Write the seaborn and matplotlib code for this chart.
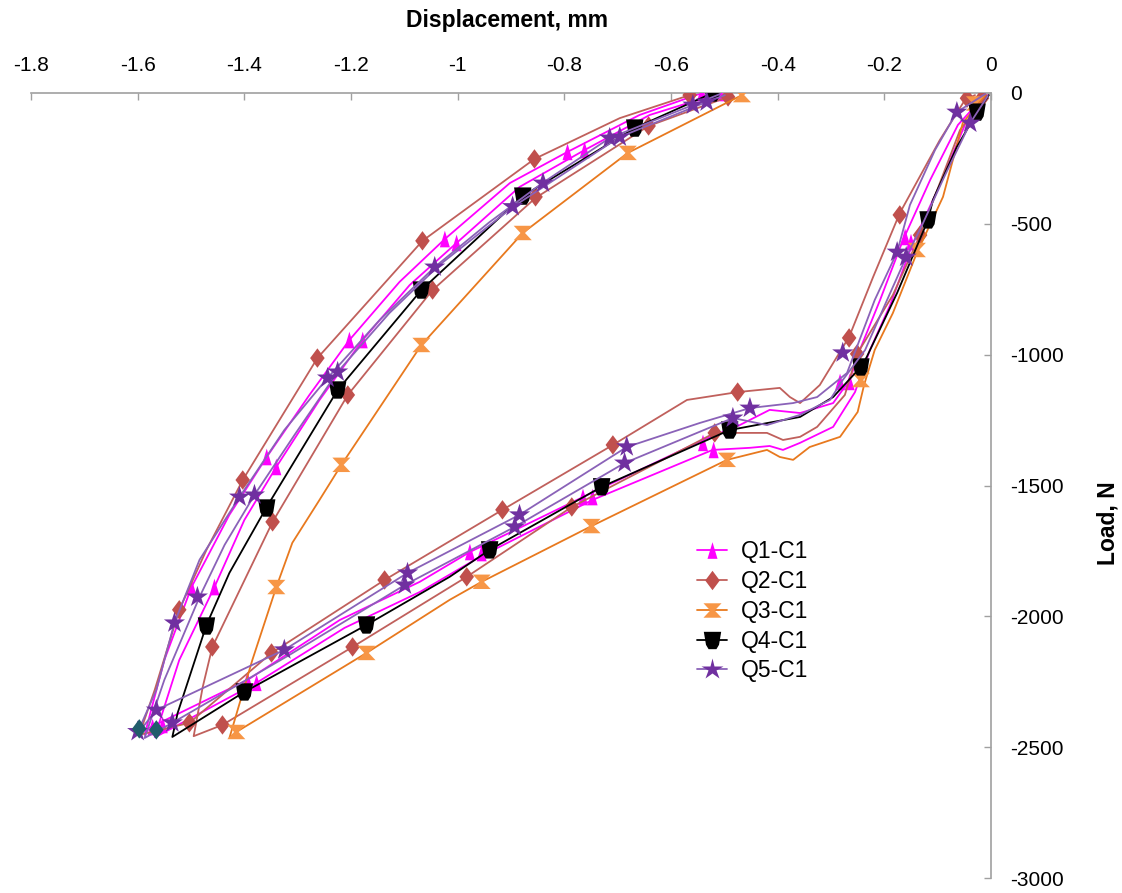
import pandas as pd
import matplotlib.pyplot as plt
import seaborn as sns
from matplotlib.lines import Line2D

# traced loops: displacement (mm) and load (N)
q1a_x = [-0.011, -0.062, -0.114, -0.165, -0.208, -0.246, -0.265, -0.296, -0.358, -0.415, -0.471, -0.540,
         -0.765, -0.977, -1.071, -1.221, -1.394, -1.578, -1.587, -1.550, -1.499, -1.428, -1.358, -1.278,
         -1.203, -1.109, -1.024, -0.902, -0.794, -0.659, -0.542]
q1a_y = [-8, -122, -332, -562, -791, -982, -1097, -1185, -1223, -1211, -1269, -1326,
         -1544, -1754, -1868, -2014, -2243, -2426, -2453, -2167, -1888, -1612, -1391, -1154,
         -944, -722, -558, -344, -225, -84, 0]
q1b_x = [-0.006, -0.049, -0.096, -0.148, -0.189, -0.227, -0.255, -0.296, -0.358, -0.390, -0.415, -0.452,
         -0.522, -0.747, -0.955, -1.071, -1.212, -1.377, -1.559, -1.568, -1.522, -1.456, -1.400, -1.340,
         -1.259, -1.178, -1.090, -1.002, -0.884, -0.762, -0.640, -0.508]
q1b_y = [-8, -122, -352, -581, -810, -982, -1143, -1276, -1337, -1364, -1349, -1356,
         -1364, -1555, -1769, -1907, -2044, -2254, -2453, -2461, -2167, -1888, -1632, -1429,
         -1173, -944, -734, -573, -359, -218, -84, 0]

q2a_x = [-0.030, -0.049, -0.096, -0.171, -0.221, -0.266, -0.321, -0.358, -0.377, -0.396, -0.475, -0.570,
         -0.709, -0.916, -1.137, -1.349, -1.503, -1.597, -1.568, -1.522, -1.471, -1.403, -1.263, -1.066,
         -0.856, -0.696, -0.565]
q2a_y = [-8, -27, -180, -459, -703, -932, -1116, -1185, -1162, -1127, -1143, -1173,
         -1345, -1593, -1861, -2140, -2407, -2453, -2281, -1975, -1746, -1479, -1013, -565,
         -252, -96, -8]
q2b_x = [-0.008, -0.058, -0.133, -0.184, -0.251, -0.274, -0.326, -0.358, -0.390, -0.420, -0.518, -0.786,
         -0.983, -1.197, -1.441, -1.495, -1.478, -1.460, -1.347, -1.206, -1.047, -0.854, -0.642, -0.493]
q2b_y = [-8, -141, -543, -772, -997, -1154, -1276, -1314, -1326, -1299, -1299, -1582,
         -1849, -2117, -2415, -2458, -2270, -2117, -1639, -1154, -753, -401, -126, -15]

q3_x = [-0.011, -0.053, -0.090, -0.139, -0.184, -0.218, -0.238, -0.250, -0.283, -0.340, -0.371, -0.396,
        -0.420, -0.495, -0.749, -0.955, -1.015, -1.171, -1.415, -1.428, -1.385, -1.340, -1.310, -1.259,
        -1.218, -1.068, -0.878, -0.681, -0.467]
q3_y = [-8, -115, -397, -611, -841, -982, -1116, -1219, -1314, -1353, -1402, -1391,
        -1364, -1402, -1655, -1868, -1937, -2140, -2442, -2465, -2167, -1888, -1719, -1555,
        -1421, -963, -535, -229, -8]

q4_x = [-0.004, -0.026, -0.064, -0.109, -0.118, -0.176, -0.233, -0.244, -0.296, -0.358, -0.490, -0.730,
        -0.940, -1.015, -1.171, -1.400, -1.535, -1.525, -1.471, -1.428, -1.358, -1.225, -1.068, -0.878,
        -0.668, -0.522]
q4_y = [-8, -73, -206, -409, -485, -764, -1009, -1047, -1162, -1238, -1288, -1505,
        -1746, -1849, -2033, -2289, -2461, -2369, -2033, -1834, -1582, -1135, -753, -394,
        -134, 0]

q5a_x = [-0.011, -0.064, -0.105, -0.152, -0.176, -0.218, -0.250, -0.270, -0.326, -0.371, -0.452, -0.546,
         -0.683, -0.884, -1.094, -1.325, -1.565, -1.602, -1.565, -1.531, -1.484, -1.409, -1.325, -1.244,
         -1.146, -1.043, -0.940, -0.841, -0.715, -0.559, -0.508]
q5a_y = [-4, -73, -218, -428, -608, -791, -963, -1070, -1162, -1185, -1204, -1261,
         -1353, -1612, -1834, -2128, -2358, -2453, -2281, -2025, -1784, -1544, -1288, -1089,
         -867, -665, -493, -344, -172, -46, -4]
q5b_x = [-0.006, -0.039, -0.086, -0.129, -0.159, -0.199, -0.236, -0.278, -0.302, -0.358, -0.420, -0.484,
         -0.687, -0.893, -1.099, -1.315, -1.535, -1.587, -1.550, -1.484, -1.437, -1.381, -1.306, -1.225,
         -1.128, -1.034, -0.897, -0.696, -0.533, -0.499]
q5b_y = [-11, -115, -313, -504, -627, -810, -982, -1097, -1173, -1230, -1269, -1242,
         -1414, -1658, -1880, -2147, -2407, -2465, -2243, -1926, -1727, -1536, -1307, -1066,
         -841, -657, -436, -168, -34, -8]

# marker positions
q1_mk_x = [-0.542, -0.794, -1.024, -1.203, -1.358, -1.499, -1.394, -0.977, -0.765, -0.540, -0.265, -0.161, -1.572,
           -0.508, -0.762, -1.002, -1.178, -1.340, -1.456, -1.377, -0.955, -0.747, -0.520, -0.283, -0.150, -1.553]
q1_mk_y = [0, -225, -558, -944, -1391, -1888, -2243, -1754, -1544, -1337, -1104, -550, -2423,
           0, -218, -573, -944, -1429, -1888, -2254, -1758, -1544, -1364, -1104, -570, -2415]
q2_mk_x = [-0.565, -0.856, -1.066, -1.263, -1.403, -1.522, -1.503, -1.349, -1.137, -0.916, -0.709, -0.475, -0.266, -0.171, -0.045,
           -0.493, -0.642, -0.854, -1.047, -1.206, -1.347, -1.460, -1.441, -1.197, -0.983, -0.786, -0.518, -0.251, -0.133, -0.017]
q2_mk_y = [-8, -252, -565, -1013, -1479, -1975, -2407, -2140, -1861, -1593, -1345, -1143, -936, -466, -20,
           -15, -126, -397, -753, -1154, -1639, -2117, -2415, -2117, -1849, -1582, -1299, -997, -543, -20]
q3_mk_x = [-0.467, -0.681, -0.878, -1.068, -1.218, -1.340, -1.415, -1.171, -0.955, -0.749, -0.495, -0.244, -0.139, -0.030]
q3_mk_y = [-8, -229, -535, -963, -1421, -1888, -2442, -2140, -1868, -1655, -1402, -1097, -600, -40]
q4_mk_x = [-0.522, -0.668, -0.878, -1.068, -1.225, -1.358, -1.471, -1.400, -1.171, -0.940, -0.730, -0.490, -0.244, -0.118, -0.026]
q4_mk_y = [0, -134, -394, -753, -1135, -1586, -2037, -2289, -2033, -1746, -1505, -1288, -1047, -485, -73]
q5_mk_x = [-0.064, -0.039, -0.176, -0.159, -0.278, -0.452, -0.484, -0.683, -0.687, -0.884, -0.893, -1.094, -1.099,
           -1.325, -1.565, -1.535, -1.531, -1.488, -1.409, -1.381, -1.244, -1.225, -1.043, -0.897, -0.840, -0.715,
           -0.696, -0.559, -0.533, -1.600]
q5_mk_y = [-73, -115, -608, -627, -993, -1204, -1242, -1352, -1414, -1612, -1658, -1834, -1880,
           -2128, -2358, -2407, -2025, -1926, -1544, -1536, -1089, -1066, -665, -434, -344, -172,
           -168, -46, -34, -2440]
teal_x = [-1.597, -1.565]
teal_y = [-2430, -2434]

labels = ["Q1-C1", "Q2-C1", "Q3-C1", "Q4-C1", "Q5-C1"]
line_colors = ["#FF00FF", "#C0605C", "#E8791E", "#000000", "#8A62B8"]
mark_colors = ["#FF00FF", "#C0504D", "#F79646", "#000000", "#7030A0"]

tri = [(0, 1), (0.6, -1), (-0.6, -1)]
diam = [(0, 1), (0.75, 0), (0, -1), (-0.75, 0)]
hourglass = [(-1, 0.8), (1, 0.8), (0.25, 0), (1, -0.8), (-1, -0.8), (-0.25, 0)]
bucket = [(-1, 1), (1, 1), (0.75, -0.5), (0.45, -1), (-0.45, -1), (-0.75, -0.5)]
markers = [tri, diam, hourglass, bucket, "*"]
msizes = [12, 14, 13, 12.5, 16]

loops = [
    [(q1a_x, q1a_y), (q1b_x, q1b_y)],
    [(q2a_x, q2a_y), (q2b_x, q2b_y)],
    [(q3_x, q3_y)],
    [(q4_x, q4_y)],
    [(q5a_x, q5a_y), (q5b_x, q5b_y)],
]
mk = [(q1_mk_x, q1_mk_y), (q2_mk_x, q2_mk_y), (q3_mk_x, q3_mk_y), (q4_mk_x, q4_mk_y), (q5_mk_x, q5_mk_y)]

sns.set_style("white")
plt.rcParams["font.family"] = ["Liberation Sans", "DejaVu Sans"]
plt.rcParams["axes.unicode_minus"] = False

fig = plt.figure(figsize=(11.22, 8.93), dpi=100)
ax = fig.add_axes([31 / 1122, 15 / 893, 960 / 1122, 785 / 893])

for i, lab in enumerate(labels):
    rows = []
    for j, (lx, ly) in enumerate(loops[i]):
        rows.append(pd.DataFrame({"disp": lx, "load": ly, "loop": j}))
    df = pd.concat(rows, ignore_index=True)
    sns.lineplot(data=df, x="disp", y="load", units="loop", estimator=None, sort=False,
                 color=line_colors[i], lw=1.3, ax=ax, zorder=2 + 2 * i, legend=False)
    sns.scatterplot(x=mk[i][0], y=mk[i][1], marker=markers[i], s=(msizes[i]) ** 2,
                    color=mark_colors[i], edgecolor="none", linewidth=0, ax=ax, zorder=3 + 2 * i, legend=False)

sns.scatterplot(x=teal_x, y=teal_y, marker=diam, s=14 ** 2, color="#215D6B",
                edgecolor="none", linewidth=0, ax=ax, zorder=20, legend=False)

ax.set_xlim(-1.8, 0)
ax.set_ylim(-3000, 0)
xt = [-1.8, -1.6, -1.4, -1.2, -1.0, -0.8, -0.6, -0.4, -0.2, 0]
ax.set_xticks(xt)
ax.set_xticklabels(["-1.8", "-1.6", "-1.4", "-1.2", "-1", "-0.8", "-0.6", "-0.4", "-0.2", "0"])
yt = [0, -500, -1000, -1500, -2000, -2500, -3000]
ax.set_yticks(yt)
ax.set_yticklabels([str(v) for v in yt])
ax.xaxis.tick_top()
ax.yaxis.tick_right()
ax.tick_params(axis="x", direction="in", length=5, width=1, color="#A0A0A0", pad=13,
               labelsize=15, labelcolor="black")
ax.tick_params(axis="y", direction="in", length=5, width=1, color="#A0A0A0", pad=14,
               labelsize=15, labelcolor="black")
ax.set_xlabel("")
ax.set_ylabel("")
for side in ["left", "bottom"]:
    ax.spines[side].set_visible(False)
for side in ["top", "right"]:
    ax.spines[side].set_color("#A0A0A0")
    ax.spines[side].set_linewidth(1.2)

fig.text(507 / 1122, 1 - 20 / 893, "Displacement, mm", ha="center", va="center",
         fontsize=16.5, fontweight="bold", color="black")
fig.text(1108 / 1122, 1 - 523 / 893, "Load, N", ha="center", va="center", rotation=90,
         fontsize=16.5, fontweight="bold", color="black")

handles = [Line2D([0], [0], color=line_colors[i], lw=1.3, marker=markers[i], markersize=msizes[i],
                  markerfacecolor=mark_colors[i], markeredgecolor="none") for i in range(5)]
fig.legend(handles, labels, loc="upper left", bbox_to_anchor=(697 / 1122, 1 - 540 / 893),
           frameon=False, fontsize=16.5, handlelength=1.3, handletextpad=0.6,
           labelspacing=0.3, borderpad=0, borderaxespad=0, labelcolor="black")

fig.savefig("out.png", dpi=100)
